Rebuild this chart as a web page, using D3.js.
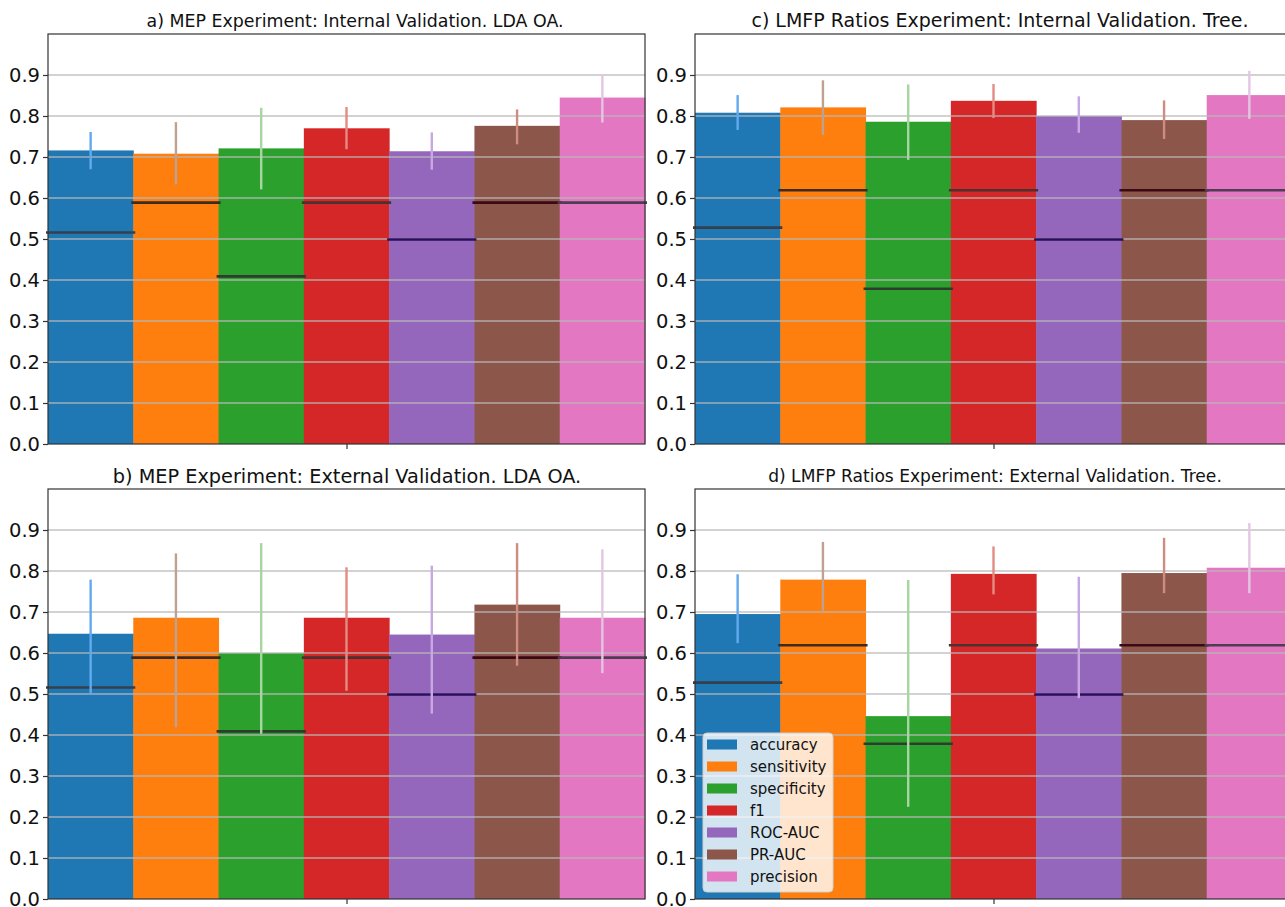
<!DOCTYPE html>
<html>
<head>
<meta charset="utf-8">
<script src="https://cdn.jsdelivr.net/npm/d3@7"></script>
<style>
  html, body { margin: 0; padding: 0; background: #fff; overflow: hidden; }
  svg { display: block; font-family: "DejaVu Sans", sans-serif; }
</style>
</head>
<body>
<svg id="chart" width="1285" height="907"></svg>
<script>
// Metrics shown in every panel
const metrics = ["accuracy", "sensitivity", "specificity", "f1", "ROC-AUC", "PR-AUC", "precision"];
const barColors = ["#1f77b4", "#ff7f0e", "#2ca02c", "#d62728", "#9467bd", "#8c564b", "#e377c2"];
const errColors = ["#62aaee", "#bea192", "#a8d6a0", "#e28c84", "#c7a8e2", "#cf8c80", "#e3c6e2"];
const baseColors = ["#34414d", "#3b2b22", "#2f3b2f", "#4c3131", "#2a0e5c", "#3c0a14", "#4f3c55"];
const yTicks = [0.0, 0.1, 0.2, 0.3, 0.4, 0.5, 0.6, 0.7, 0.8, 0.9];

// a) MEP, internal validation
const mepInternal = [0.716, 0.708, 0.721, 0.770, 0.714, 0.776, 0.845];
const mepInternalLow = [0.670, 0.633, 0.621, 0.719, 0.669, 0.731, 0.784];
const mepInternalHigh = [0.761, 0.785, 0.820, 0.822, 0.760, 0.816, 0.901];
// b) MEP, external validation
const mepExternal = [0.647, 0.686, 0.600, 0.686, 0.645, 0.718, 0.686];
const mepExternalLow = [0.500, 0.419, 0.403, 0.508, 0.452, 0.569, 0.551];
const mepExternalHigh = [0.779, 0.843, 0.868, 0.809, 0.813, 0.868, 0.853];
// c) LMFP ratios, internal validation
const lmfpInternal = [0.808, 0.821, 0.786, 0.837, 0.800, 0.790, 0.851];
const lmfpInternalLow = [0.766, 0.754, 0.693, 0.795, 0.759, 0.744, 0.793];
const lmfpInternalHigh = [0.851, 0.887, 0.877, 0.878, 0.848, 0.838, 0.910];
// d) LMFP ratios, external validation
const lmfpExternal = [0.695, 0.779, 0.446, 0.793, 0.611, 0.795, 0.808];
const lmfpExternalLow = [0.624, 0.703, 0.225, 0.743, 0.490, 0.746, 0.746];
const lmfpExternalHigh = [0.792, 0.871, 0.778, 0.860, 0.786, 0.881, 0.917];
// Chance-level reference per metric
const mepBaseline = [0.517, 0.590, 0.410, 0.590, 0.500, 0.590, 0.590];
const lmfpBaseline = [0.529, 0.620, 0.380, 0.620, 0.500, 0.620, 0.620];

const panels = [
  { title: "a) MEP Experiment: Internal Validation. LDA OA.", values: mepInternal, low: mepInternalLow, high: mepInternalHigh, base: mepBaseline,
    x0: 48, y0: 34, titleSize: 17.4, titleX: 355, titleY: 27 },
  { title: "b) MEP Experiment: External Validation. LDA OA.", values: mepExternal, low: mepExternalLow, high: mepExternalHigh, base: mepBaseline,
    x0: 48, y0: 489, titleSize: 19.3, titleX: 347, titleY: 483 },
  { title: "c) LMFP Ratios Experiment: Internal Validation. Tree.", values: lmfpInternal, low: lmfpInternalLow, high: lmfpInternalHigh, base: lmfpBaseline,
    x0: 695, y0: 34, titleSize: 19.0, titleX: 1000, titleY: 27 },
  { title: "d) LMFP Ratios Experiment: External Validation. Tree.", values: lmfpExternal, low: lmfpExternalLow, high: lmfpExternalHigh, base: lmfpBaseline,
    x0: 695, y0: 489, titleSize: 17.1, titleX: 995, titleY: 482, legend: true }
];

const W = 597, H = 410;
const svg = d3.select("#chart");

panels.forEach(p => {
  const g = svg.append("g").attr("transform", `translate(${p.x0},${p.y0})`);
  const x = d3.scaleBand().domain(metrics).range([0, W]).padding(0);
  const y = d3.scaleLinear().domain([0, 1.0]).range([H, 0]);

  // bars
  g.selectAll("rect.bar").data(metrics).join("rect")
    .attr("class", "bar")
    .attr("x", d => x(d))
    .attr("width", x.bandwidth() + 0.5)
    .attr("y", (d, i) => y(p.values[i]))
    .attr("height", (d, i) => y(0) - y(p.values[i]))
    .attr("fill", (d, i) => barColors[i]);

  // horizontal grid drawn above the bars
  g.selectAll("line.grid").data(yTicks.slice(1)).join("line")
    .attr("class", "grid")
    .attr("x1", 0).attr("x2", W)
    .attr("y1", d => y(d)).attr("y2", d => y(d))
    .attr("stroke", "#b8b8b8")
    .attr("stroke-opacity", 0.85)
    .attr("stroke-width", 1.5);

  // chance-level reference lines
  g.selectAll("line.base").data(metrics).join("line")
    .attr("class", "base")
    .attr("x1", d => x(d) - 2)
    .attr("x2", d => x(d) + x.bandwidth() + 2)
    .attr("y1", (d, i) => y(p.base[i]) + 0.5)
    .attr("y2", (d, i) => y(p.base[i]) + 0.5)
    .attr("stroke", (d, i) => baseColors[i])
    .attr("stroke-width", 2.6);

  // error bars
  g.selectAll("line.err").data(metrics).join("line")
    .attr("class", "err")
    .attr("x1", d => x(d) + x.bandwidth() / 2)
    .attr("x2", d => x(d) + x.bandwidth() / 2)
    .attr("y1", (d, i) => y(p.low[i]))
    .attr("y2", (d, i) => y(p.high[i]))
    .attr("stroke", (d, i) => errColors[i])
    .attr("stroke-width", 2.4);

  // y axis
  const yAxis = d3.axisLeft(y).tickValues(yTicks).tickFormat(d3.format(".1f")).tickSize(5).tickPadding(3);
  const ya = g.append("g").call(yAxis);
  ya.select(".domain").remove();
  ya.selectAll(".tick line").attr("stroke", "#333").attr("stroke-width", 1.2);
  ya.selectAll(".tick text").attr("font-size", 19.5).attr("fill", "#111")
    .attr("font-family", "DejaVu Sans, sans-serif");

  // single x tick at the group centre
  const xc = d3.scalePoint().domain(["group"]).range([0, W]).padding(0.5);
  const xa = g.append("g").attr("transform", `translate(0,${H})`)
    .call(d3.axisBottom(xc).tickSize(5).tickFormat(""));
  xa.select(".domain").remove();
  xa.selectAll(".tick line").attr("stroke", "#333").attr("stroke-width", 1.2);

  // frame
  g.append("rect").attr("x", 0).attr("y", 0).attr("width", W).attr("height", H)
    .attr("fill", "none").attr("stroke", "#333").attr("stroke-width", 1.2);

  // title
  svg.append("text")
    .attr("x", p.titleX).attr("y", p.titleY)
    .attr("text-anchor", "middle")
    .attr("font-size", p.titleSize)
    .attr("fill", "#111")
    .text(p.title);

  if (p.legend) {
    const lg = g.append("g").attr("transform", "translate(8,244)");
    lg.append("rect").attr("width", 130).attr("height", 159).attr("rx", 4)
      .attr("fill", "#fff").attr("fill-opacity", 0.8)
      .attr("stroke", "#d0d0d0").attr("stroke-width", 1);
    const items = lg.selectAll("g.item").data(metrics).join("g")
      .attr("class", "item")
      .attr("transform", (d, i) => `translate(4,${11.5 + i * 22})`);
    items.append("rect").attr("x", 0).attr("y", -5).attr("width", 30).attr("height", 10)
      .attr("fill", (d, i) => barColors[i]);
    items.append("text").attr("x", 43).attr("y", 0).attr("dy", "0.35em")
      .attr("font-size", 15).attr("fill", "#111").text(d => d);
  }
});
</script>
</body>
</html>
